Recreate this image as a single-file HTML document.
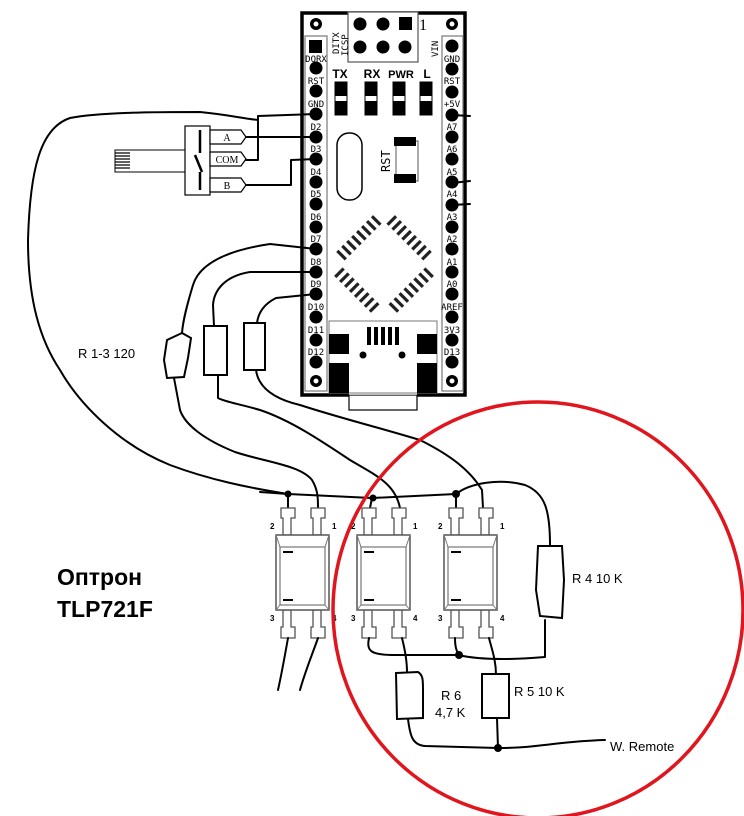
<!DOCTYPE html>
<html><head><meta charset="utf-8"><style>
html,body{margin:0;padding:0;background:#fff;}
svg{display:block;}
.pl{font-family:"DejaVu Sans Mono","Liberation Mono",monospace;font-size:9px;fill:#000;}
.w{fill:none;stroke:#000;stroke-width:2;stroke-linejoin:round;stroke-linecap:round;}
.t{font-family:"Liberation Sans",sans-serif;font-size:13px;fill:#000;}
</style></head><body>
<svg width="744" height="816" viewBox="0 0 744 816" xmlns="http://www.w3.org/2000/svg">
<defs>
<g id="opto">
  <!-- top pins -->
  <path d="M5,0 h14 v10 h-4 v17 h-8 v-17 h-2 z" fill="#fff" stroke="#555" stroke-width="1.3"/>
  <path d="M35,0 h14 v10 h-4 v17 h-8 v-17 h-2 z" fill="#fff" stroke="#555" stroke-width="1.3"/>
  <!-- bottom pins -->
  <path d="M7,102 h8 v17 h4 v11 h-14 v-11 h2 z" fill="#fff" stroke="#555" stroke-width="1.3"/>
  <path d="M37,102 h8 v17 h4 v11 h-14 v-11 h2 z" fill="#fff" stroke="#555" stroke-width="1.3"/>
  <rect x="0" y="27" width="53" height="75" fill="#fff" stroke="#555" stroke-width="1.5"/>
  <rect x="4" y="39" width="45" height="58" fill="#fff" stroke="#777" stroke-width="1.2"/>
  <path d="M0,27 L4,39 M53,27 L49,39 M0,102 L4,97 M53,102 L49,97" stroke="#777" stroke-width="1"/>
  <rect x="7" y="43" width="10" height="2" fill="#000"/>
  <rect x="7" y="91" width="10" height="2" fill="#000"/>
  <text x="-6" y="21" font-family="Liberation Sans,sans-serif" font-size="8" font-weight="bold">2</text>
  <text x="56" y="21" font-family="Liberation Sans,sans-serif" font-size="8" font-weight="bold">1</text>
  <text x="-6" y="113" font-family="Liberation Sans,sans-serif" font-size="8" font-weight="bold">3</text>
  <text x="56" y="113" font-family="Liberation Sans,sans-serif" font-size="8" font-weight="bold">4</text>
</g>
</defs>

<!-- ===== Arduino board ===== -->
<rect x="302" y="13" width="163" height="382" fill="#fff" stroke="#000" stroke-width="3.5"/>
<rect x="349" y="395" width="68" height="15" fill="#fff" stroke="#000" stroke-width="1.2"/>
<!-- header strips -->
<rect x="305" y="36" width="22" height="355" fill="#fff" stroke="#777" stroke-width="1.2"/>
<rect x="442" y="36" width="21" height="355" fill="#fff" stroke="#777" stroke-width="1.2"/>
<!-- mount holes -->
<circle cx="316" cy="24" r="6" fill="#000"/><circle cx="316" cy="24" r="2.5" fill="#fff"/>
<circle cx="452" cy="24" r="6" fill="#000"/><circle cx="452" cy="24" r="2.5" fill="#fff"/>
<circle cx="316" cy="381" r="6" fill="#000"/><circle cx="316" cy="381" r="2.5" fill="#fff"/>
<circle cx="452" cy="381" r="6" fill="#000"/><circle cx="452" cy="381" r="2.5" fill="#fff"/>
<!-- ICSP -->
<rect x="348" y="12" width="70" height="50" fill="#fff" stroke="#555" stroke-width="1.2"/>
<circle cx="360" cy="24" r="6.5" fill="#000"/><circle cx="383" cy="24" r="6.5" fill="#000"/><rect x="399" y="17" width="13" height="13" fill="#000"/>
<circle cx="360" cy="47" r="6.5" fill="#000"/><circle cx="383" cy="47" r="6.5" fill="#000"/><circle cx="405" cy="47" r="6.5" fill="#000"/>
<text x="419" y="30" font-family="Liberation Serif,serif" font-size="16">1</text>
<text class="pl" transform="translate(339,54) rotate(-90)">DITX</text>
<text class="pl" transform="translate(348,56) rotate(-90)">ICSP</text>
<text class="pl" transform="translate(438,57) rotate(-90)">VIN</text>
<!-- left pins -->
<rect x="309" y="40" width="13" height="13" fill="#000"/>
<g fill="#000">
<circle cx="316" cy="68" r="6.5"/><circle cx="316" cy="91" r="6.5"/><circle cx="316" cy="114" r="6.5"/><circle cx="316" cy="137" r="6.5"/><circle cx="316" cy="159" r="6.5"/><circle cx="316" cy="182" r="6.5"/><circle cx="316" cy="204" r="6.5"/><circle cx="316" cy="227" r="6.5"/><circle cx="316" cy="249" r="6.5"/><circle cx="316" cy="272" r="6.5"/><circle cx="316" cy="294" r="6.5"/><circle cx="316" cy="317" r="6.5"/><circle cx="316" cy="340" r="6.5"/><circle cx="316" cy="362" r="6.5"/>
<circle cx="452" cy="46" r="6.5"/><circle cx="452" cy="69" r="6.5"/><circle cx="452" cy="92" r="6.5"/><circle cx="452" cy="115" r="6.5"/><circle cx="452" cy="137" r="6.5"/><circle cx="452" cy="159" r="6.5"/><circle cx="452" cy="182" r="6.5"/><circle cx="452" cy="205" r="6.5"/><circle cx="452" cy="227" r="6.5"/><circle cx="452" cy="249" r="6.5"/><circle cx="452" cy="272" r="6.5"/><circle cx="452" cy="294" r="6.5"/><circle cx="452" cy="317" r="6.5"/><circle cx="452" cy="340" r="6.5"/><circle cx="452" cy="362" r="6.5"/>
</g>
<g class="pl" text-anchor="middle">
<text x="316" y="62">DORX</text><text x="316" y="84">RST</text><text x="316" y="107">GND</text><text x="316" y="130">D2</text><text x="316" y="152">D3</text><text x="316" y="175">D4</text><text x="316" y="197">D5</text><text x="316" y="220">D6</text><text x="316" y="242">D7</text><text x="316" y="265">D8</text><text x="316" y="287">D9</text><text x="316" y="310">D10</text><text x="316" y="333">D11</text><text x="316" y="355">D12</text>
<text x="452" y="62">GND</text><text x="452" y="84">RST</text><text x="452" y="107">+5V</text><text x="452" y="130">A7</text><text x="452" y="152">A6</text><text x="452" y="175">A5</text><text x="452" y="197">A4</text><text x="452" y="220">A3</text><text x="452" y="242">A2</text><text x="452" y="265">A1</text><text x="452" y="287">A0</text><text x="452" y="310">AREF</text><text x="452" y="333">3V3</text><text x="452" y="355">D13</text>
</g>
<!-- LEDs -->
<g font-family="Liberation Sans,sans-serif" font-size="12" font-weight="bold" text-anchor="middle">
<text x="340" y="78">TX</text><text x="372" y="78">RX</text><text x="401" y="78" font-size="11">PWR</text><text x="427" y="78">L</text>
</g>
<g fill="#000">
<rect x="335" y="82" width="12" height="14"/><rect x="335" y="101" width="12" height="14"/>
<rect x="365" y="82" width="12" height="14"/><rect x="365" y="101" width="12" height="14"/>
<rect x="393" y="82" width="12" height="14"/><rect x="393" y="101" width="12" height="14"/>
<rect x="420" y="82" width="12" height="14"/><rect x="420" y="101" width="12" height="14"/>
</g>
<g fill="none" stroke="#000" stroke-width="1"><rect x="335" y="82" width="12" height="33"/><rect x="365" y="82" width="12" height="33"/><rect x="393" y="82" width="12" height="33"/><rect x="420" y="82" width="12" height="33"/></g>
<!-- crystal -->
<rect x="337" y="133" width="25" height="67" rx="12" fill="#fff" stroke="#000" stroke-width="1.5"/>
<!-- RST button -->
<rect x="396" y="141" width="22" height="40" fill="#fff" stroke="#555" stroke-width="1"/>
<rect x="394" y="137" width="22" height="9" fill="#000"/><rect x="394" y="174" width="22" height="9" fill="#000"/>
<text transform="translate(390,172) rotate(-90)" font-family="DejaVu Sans Mono,monospace" font-size="12">RST</text>
<!-- chip -->
<g transform="translate(384,265) rotate(45)">
<rect x="-30" y="-30" width="60" height="60" fill="#fff"/>
<g stroke="#222" stroke-width="3.2">
<path d="M-26,-31 v-12 M-19,-31 v-12 M-12,-31 v-12 M-5,-31 v-12 M2,-31 v-12 M9,-31 v-12 M16,-31 v-12 M23,-31 v-12"/>
<path d="M-26,31 v12 M-19,31 v12 M-12,31 v12 M-5,31 v12 M2,31 v12 M9,31 v12 M16,31 v12 M23,31 v12"/>
<path d="M-31,-26 h-12 M-31,-19 h-12 M-31,-12 h-12 M-31,-5 h-12 M-31,2 h-12 M-31,9 h-12 M-31,16 h-12 M-31,23 h-12"/>
<path d="M31,-26 h12 M31,-19 h12 M31,-12 h12 M31,-5 h12 M31,2 h12 M31,9 h12 M31,16 h12 M31,23 h12"/>
</g>
</g>
<!-- USB -->
<rect x="329" y="321" width="108" height="72" fill="#fff" stroke="#777" stroke-width="1"/>
<g fill="#000">
<rect x="329" y="334" width="20" height="20"/><rect x="417" y="334" width="20" height="20"/>
<rect x="329" y="363" width="20" height="30"/><rect x="417" y="363" width="20" height="30"/>
<rect x="367" y="327" width="4" height="18"/><rect x="374" y="327" width="4" height="18"/><rect x="381" y="327" width="4" height="18"/><rect x="388" y="327" width="4" height="18"/><rect x="395" y="327" width="4" height="18"/>
<circle cx="363" cy="355" r="3.5"/><circle cx="402" cy="355" r="3.5"/>
</g>
<rect x="349" y="393" width="68" height="2" fill="#bbb"/>

<!-- right short wires -->
<path class="w" d="M452,115 L470,116 M452,183 L470,181 M452,205 L470,204"/>

<!-- ===== Encoder switch ===== -->
<rect x="115" y="150" width="70" height="22" fill="#fff" stroke="#000" stroke-width="1"/>
<g stroke="#000" stroke-width="1.2"><path d="M115,153 h15 M115,156 h15 M115,159 h15 M115,162 h15 M115,165 h15 M115,168 h15"/></g>
<rect x="185" y="126" width="25" height="69" fill="#fff" stroke="#000" stroke-width="1.2"/>
<path d="M200,130 V153 M195,155 L202,172 M200,172 V190" stroke="#000" stroke-width="2.5"/>
<g fill="#fff" stroke="#000" stroke-width="1.2">
<path d="M210,130 H241 L246,137 L241,144 H210 Z"/>
<path d="M210,152 H241 L246,159 L241,166 H210 Z"/>
<path d="M210,178 H241 L246,185 L241,192 H210 Z"/>
</g>
<g font-family="Liberation Serif,serif" font-size="10" text-anchor="middle">
<text x="227" y="141">A</text><text x="227" y="163">COM</text><text x="227" y="189">B</text>
</g>
<path class="w" d="M316,114 L258,116 L258,160 L246,160"/>
<path class="w" d="M316,137 L246,137"/>
<path class="w" d="M316,159 L291,160 L291,185 L246,185"/>
<!-- long GND wire -->
<path class="w" d="M258,120 C240,118 230,115 200,112 C160,112 100,112 70,118 C40,128 30,170 28,240 C28,300 40,340 60,370 C80,405 120,445 170,465 C210,480 250,488 288,494"/>

<!-- D7-D9 to resistors -->
<path class="w" d="M316,249 L270,244 C230,250 200,262 193,285 C187,305 183,320 182,333"/>
<path class="w" d="M316,272 L250,272 C225,276 214,290 213,305 L214,326"/>
<path class="w" d="M316,294 L276,298 C262,305 258,315 257,323"/>
<!-- resistors R1-3 -->
<path d="M167,340 L182,333 L191,338 L188,358 L184,377 L167,378 L164,360 Z" fill="#fff" stroke="#000" stroke-width="2"/>
<rect x="204" y="326" width="23" height="49" fill="#fff" stroke="#000" stroke-width="2"/>
<rect x="244" y="323" width="21" height="47" fill="#fff" stroke="#000" stroke-width="2"/>
<text class="t" x="78" y="358">R 1-3 120</text>
<!-- resistor bottoms to opto pin1 -->
<path class="w" d="M174,378 L180,410 C185,425 205,440 235,452 C265,462 300,465 312,480 C318,490 318,498 318,508"/>
<path class="w" d="M218,375 L218,398 C225,402 240,404 260,410 C290,420 320,440 350,460 C375,475 395,483 400,508"/>
<path class="w" d="M256,370 C258,385 270,398 300,405 C340,418 370,425 420,440 C450,455 470,470 482,490 L483,508"/>

<!-- bus -->
<path class="w" d="M260,492 L288,494 L372,498 L456,494"/>
<path class="w" d="M456,494 C470,483 500,478 525,485 C545,493 550,510 550,545"/>
<path class="w" d="M288,494 L288,508 M372,498 L370,508 M456,494 L456,508"/>
<circle cx="288" cy="494" r="3.5"/><circle cx="373" cy="498" r="3.5"/><circle cx="456" cy="494" r="4"/>

<!-- optocouplers -->
<use href="#opto" x="276" y="508"/>
<use href="#opto" x="357" y="508"/>
<use href="#opto" x="444" y="508"/>

<!-- bottom wiring -->
<path class="w" d="M288,638 C285,655 282,672 278,690 M318,638 C312,655 305,672 300,690"/>
<path class="w" d="M369,638 C366,652 372,655 395,655 L458,655 C480,660 510,660 545,657 L545,620"/>
<path class="w" d="M455,638 C455,648 457,652 459,655"/>
<circle cx="459" cy="655" r="4"/>
<path class="w" d="M402,638 C405,650 407,660 407,672"/>
<path class="w" d="M489,638 C492,650 496,660 496,675"/>
<path d="M538,546 L562,546 L564,580 L562,618 L540,616 L536,590 Z" fill="#fff" stroke="#000" stroke-width="2"/>
<path d="M396,673 L418,672 C423,675 423,680 423,690 L423,718 L397,719 Z" fill="#fff" stroke="#000" stroke-width="2"/>
<rect x="482" y="674" width="27" height="44" fill="#fff" stroke="#000" stroke-width="2"/>
<path class="w" d="M408,719 C410,735 412,745 425,746 L498,748 M497,718 L498,748 M498,748 C540,748 560,741 605,740"/>
<circle cx="498" cy="748" r="4"/>
<text class="t" x="572" y="583">R 4 10 K</text>
<text class="t" x="514" y="696">R 5 10 K</text>
<text class="t" x="441" y="700">R 6</text>
<text class="t" x="435" y="717">4,7 K</text>
<text class="t" x="610" y="751" font-size="12.5">W. Remote</text>

<text x="57" y="585" font-family="Liberation Sans,sans-serif" font-size="23" font-weight="bold">Оптрон</text>
<text x="57" y="617" font-family="Liberation Sans,sans-serif" font-size="23" font-weight="bold">TLP721F</text>

<!-- red circle -->
<ellipse cx="538" cy="610" rx="205" ry="208" fill="none" stroke="#e0151d" stroke-width="3.5"/>
</svg>
</body></html>
